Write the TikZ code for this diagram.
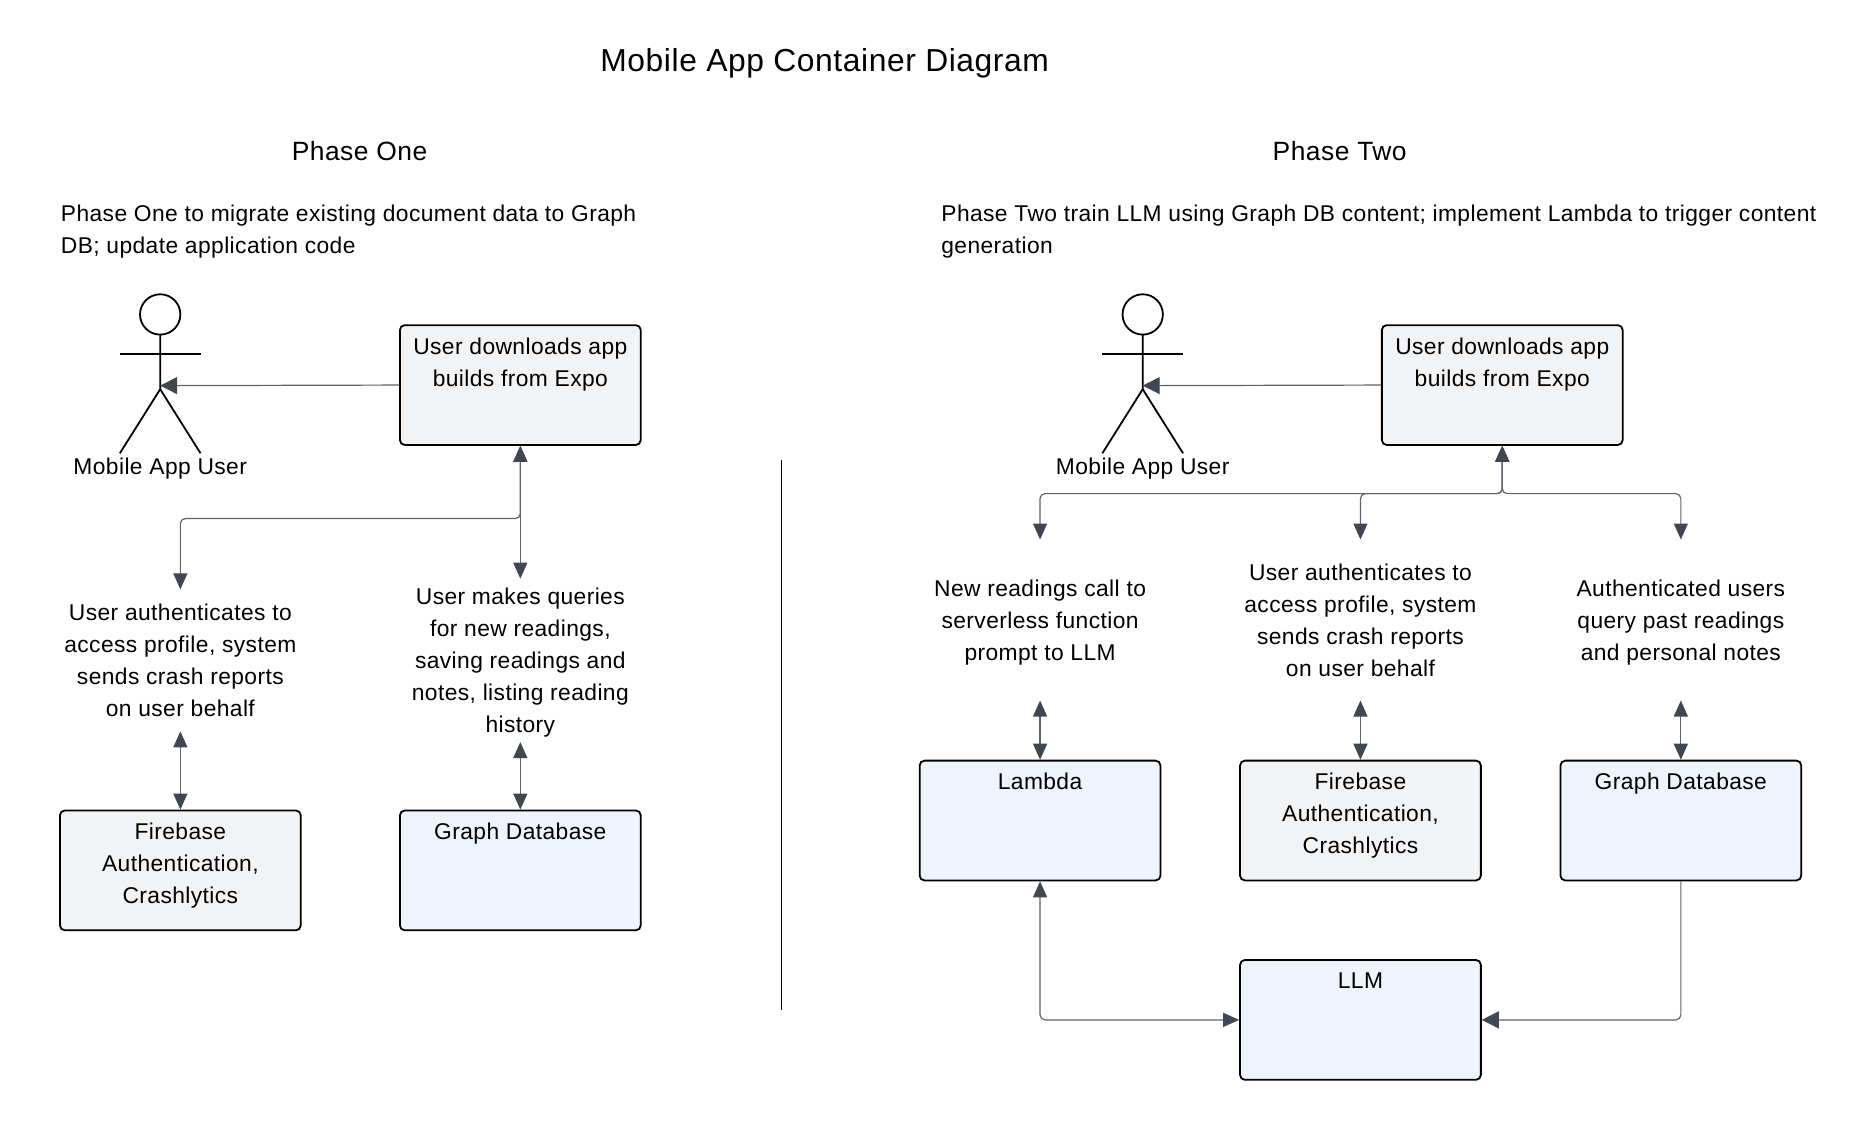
\documentclass[tikz,border=0pt]{standalone}
\usepackage{fontspec}
\setmainfont[LetterSpace=1.8]{Liberation Sans}
\usepackage{xcolor}
\usetikzlibrary{arrows.meta}
\definecolor{boxgrey}{HTML}{F2F3F5}
\definecolor{boxblue}{HTML}{EDF4FC}
\definecolor{linkgrey}{HTML}{5F636B}
\definecolor{tipgrey}{HTML}{3F4753}
\newcommand{\bodyfont}{\fontsize{11.4}{16}\selectfont}
\newcommand{\boxlines}[1]{\parbox[t][59.9pt][t]{120.4pt}{\centering\vspace*{6.2pt}#1}}
\tikzset{
	box/.style={draw=black, line width=0.9pt, rounded corners=2.4pt, inner sep=0pt, font=\bodyfont},
	greybox/.style={box, fill=boxgrey},
	bluebox/.style={box, fill=boxblue},
	note/.style={align=center, inner sep=0pt, font=\bodyfont, execute at begin node=\strut, text depth=0pt},
	noteleft/.style={note, minimum height=70.6pt},
	noteright/.style={note, minimum height=81.3pt},
	notetwo/.style={note, minimum height=80.1pt},
	link/.style={draw=linkgrey, line width=0.6pt, rounded corners=2.5pt,
		>={Triangle[length=8pt,width=7pt,color=tipgrey]}},
	linkwide/.style={link, >={Triangle[length=8.5pt,width=8.5pt,color=tipgrey]}},
	stick/.style={draw=black, line width=0.9pt},
}

\begin{document}
\begin{tikzpicture}[x=0.5933pt, y=-0.5933pt]
	\useasboundingbox (0,0) rectangle (1567.5,943.9);
	\fill[white] (0,0) rectangle (1567.5,943.9);
	\node (title) at (695,53) {\fontsize{15.9}{18}\selectfont Mobile App Container Diagram};
	\node (phaseone) at (303,127.5) {\fontsize{13.2}{16}\selectfont Phase One};
	\node (phasetwo) at (1129,127.5) {\fontsize{13.2}{16}\selectfont Phase Two};
	\node[note, align=left, anchor=west] (descone) at (51,193.5) {Phase One to migrate existing document data to Graph\\DB; update application code};
	\node[note, align=left, anchor=west] (desctwo) at (793,193.5) {Phase Two train LLM using Graph DB content; implement Lambda to trigger content\\generation};
	\draw[black, line width=0.7pt] (658.5,388) -- (658.5,851);

	% phase one
	\draw[stick] (135,265) circle (17);
	\draw[stick] (135,282) -- (135,328) -- (101,382);
	\draw[stick] (135,328) -- (169,382);
	\draw[stick] (101,298) -- (169,298);
	\coordinate (userone) at (135,325);
	\node[note] (actorone) at (135,390.5) {Mobile App User};
	\node[greybox] (buildone) at (438.5,324.5) {\boxlines{User downloads app\\builds from Expo}};
	\node[noteleft] (authone) at (152,556.5) {User authenticates to\\access profile, system\\sends crash reports\\on user behalf};
	\node[noteright] (queryone) at (438.5,556.5) {User makes queries\\for new readings,\\saving readings and\\notes, listing reading\\history};
	\node[greybox] (firebaseone) at (152,733.5) {\boxlines{Firebase\\Authentication,\\Crashlytics}};
	\node[bluebox] (graphone) at (438.5,733.5) {\boxlines{Graph Database}};
	\coordinate (forkone) at (438.5,437);

	\draw[linkwide,->] (buildone.west) -- (userone);
	\draw[link,<->] (buildone.south) -- (queryone.north);
	\draw[link,<->] (buildone.south) -- (forkone) -| (authone.north);
	\draw[link,<->] (authone.south) -- (firebaseone.north);
	\draw[link,<->] (queryone.south) -- (graphone.north);

	% phase two
	\draw[stick] (963,265) circle (17);
	\draw[stick] (963,282) -- (963,328) -- (929,382);
	\draw[stick] (963,328) -- (997,382);
	\draw[stick] (929,298) -- (997,298);
	\coordinate (usertwo) at (963,325);
	\node[note] (actortwo) at (963,390.5) {Mobile App User};
	\node[greybox] (buildtwo) at (1266,324.5) {\boxlines{User downloads app\\builds from Expo}};
	\node[notetwo] (calltwo) at (876.5,522.5) {New readings call to\\serverless function\\prompt to LLM};
	\node[notetwo] (authtwo) at (1146.5,522.5) {User authenticates to\\access profile, system\\sends crash reports\\on user behalf};
	\node[notetwo] (pasttwo) at (1416.5,522.5) {Authenticated users\\query past readings\\and personal notes};
	\node[bluebox] (lambda) at (876.5,691.5) {\boxlines{Lambda}};
	\node[greybox] (firebasetwo) at (1146.5,691.5) {\boxlines{Firebase\\Authentication,\\Crashlytics}};
	\node[bluebox] (graphtwo) at (1416.5,691.5) {\boxlines{Graph Database}};
	\node[bluebox] (llm) at (1146.5,859.5) {\boxlines{LLM}};
	\coordinate (forktwo) at (1266,416);

	\draw[linkwide,->] (buildtwo.west) -- (usertwo);
	\draw[link,<->] (buildtwo.south) -- (forktwo) -| (calltwo.north);
	\draw[link,<->] (buildtwo.south) -- (forktwo) -| (authtwo.north);
	\draw[link,<->] (buildtwo.south) -- (forktwo) -| (pasttwo.north);
	\draw[link,<->] (calltwo.south) -- (lambda.north);
	\draw[link,<->] (authtwo.south) -- (firebasetwo.north);
	\draw[link,<->] (pasttwo.south) -- (graphtwo.north);
	\draw[link,<->] (lambda.south) |- (llm.west);
	\draw[linkwide,->] (graphtwo.south) |- (llm.east);
\end{tikzpicture}
\end{document}
